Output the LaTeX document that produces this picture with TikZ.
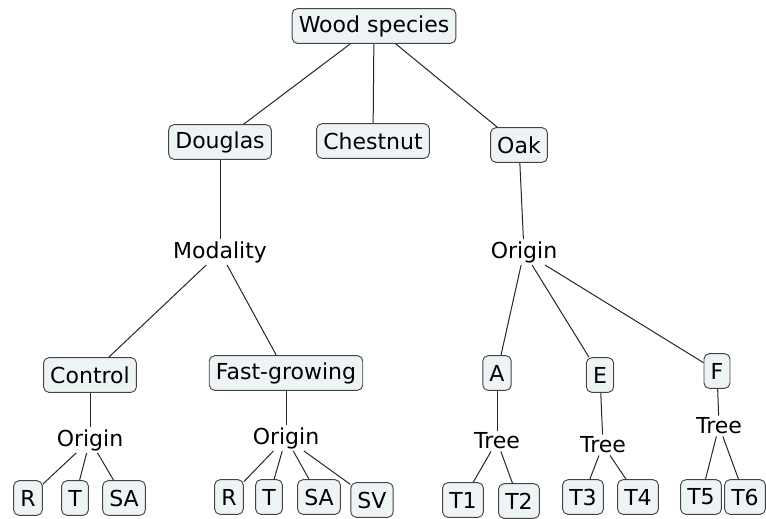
\documentclass[tikz,border=0pt]{standalone}
\usepackage{fontspec}
\setmainfont{DejaVu Sans}
\usepackage{tikz}
\definecolor{boxfill}{HTML}{EEF3F5}
\definecolor{boxline}{HTML}{444444}

\begin{document}
\begin{tikzpicture}[x=0.75pt, y=-0.75pt,
            font=\fontsize{16.5}{19}\selectfont,
            box/.style={draw=boxline, fill=boxfill, rounded corners=4pt,
                line width=0.7pt, inner xsep=5pt, inner ysep=0pt,
                minimum height=26pt},
            lbl/.style={inner sep=1.5pt},
            edge/.style={draw=black!85, line width=0.75pt}]
            \useasboundingbox (0, 0) rectangle (766, 518);
            % top level
            \node [box] (wood) at (374, 26) {Wood species};
            \node [box] (douglas) at (220, 142) {Douglas};
            \node [box] (chestnut) at (373, 141) {Chestnut};
            \node [box] (oak) at (519, 145) {Oak};
            \draw [edge] (wood) -- (douglas);
            \draw [edge] (wood) -- (chestnut);
            \draw [edge] (wood) -- (oak);
            % Douglas branch
            \node [lbl] (modality) at (220, 252) {Modality};
            \node [box] (control) at (90, 375) {Control};
            \node [box] (fast) at (286, 373) {Fast-growing};
            \draw [edge] (douglas) -- (modality);
            \draw [edge] (modality) -- (control);
            \draw [edge] (modality) -- (fast);
            \node [lbl] (origc) at (90, 440) {Origin};
            \node [lbl] (origf) at (286, 438) {Origin};
            \draw [edge] (control) -- (origc);
            \draw [edge] (fast) -- (origf);
            \node [box] (cr) at (28, 498) {R};
            \node [box] (ct) at (75, 498) {T};
            \node [box] (csa) at (124, 498) {SA};
            \draw [edge] (origc) -- (cr);
            \draw [edge] (origc) -- (ct);
            \draw [edge] (origc) -- (csa);
            \node [box] (fr) at (229, 497) {R};
            \node [box] (ft) at (269, 497) {T};
            \node [box] (fsa) at (319, 497) {SA};
            \node [box] (fsv) at (372, 500) {SV};
            \draw [edge] (origf) -- (fr);
            \draw [edge] (origf) -- (ft);
            \draw [edge] (origf) -- (fsa);
            \draw [edge] (origf) -- (fsv);
            % Oak branch
            \node [lbl] (origo) at (524, 252) {Origin};
            \draw [edge] (oak) -- (origo);
            \node [box] (a) at (497, 373) {A};
            \node [box] (e) at (600, 375) {E};
            \node [box] (f) at (717, 371) {F};
            \draw [edge] (origo) -- (a);
            \draw [edge] (origo) -- (e);
            \draw [edge] (origo) -- (f);
            \node [lbl] (treea) at (497, 441) {Tree};
            \node [lbl] (treee) at (603, 445) {Tree};
            \node [lbl] (treef) at (719, 426) {Tree};
            \draw [edge] (a) -- (treea);
            \draw [edge] (e) -- (treee);
            \draw [edge] (f) -- (treef);
            \node [box] (t1) at (463, 500) {T1};
            \node [box] (t2) at (519, 501) {T2};
            \node [box] (t3) at (583, 497) {T3};
            \node [box] (t4) at (638, 497) {T4};
            \node [box] (t5) at (701, 497) {T5};
            \node [box] (t6) at (745, 497) {T6};
            \draw [edge] (treea) -- (t1);
            \draw [edge] (treea) -- (t2);
            \draw [edge] (treee) -- (t3);
            \draw [edge] (treee) -- (t4);
            \draw [edge] (treef) -- (t5);
            \draw [edge] (treef) -- (t6);
        \end{tikzpicture}
\end{document}
